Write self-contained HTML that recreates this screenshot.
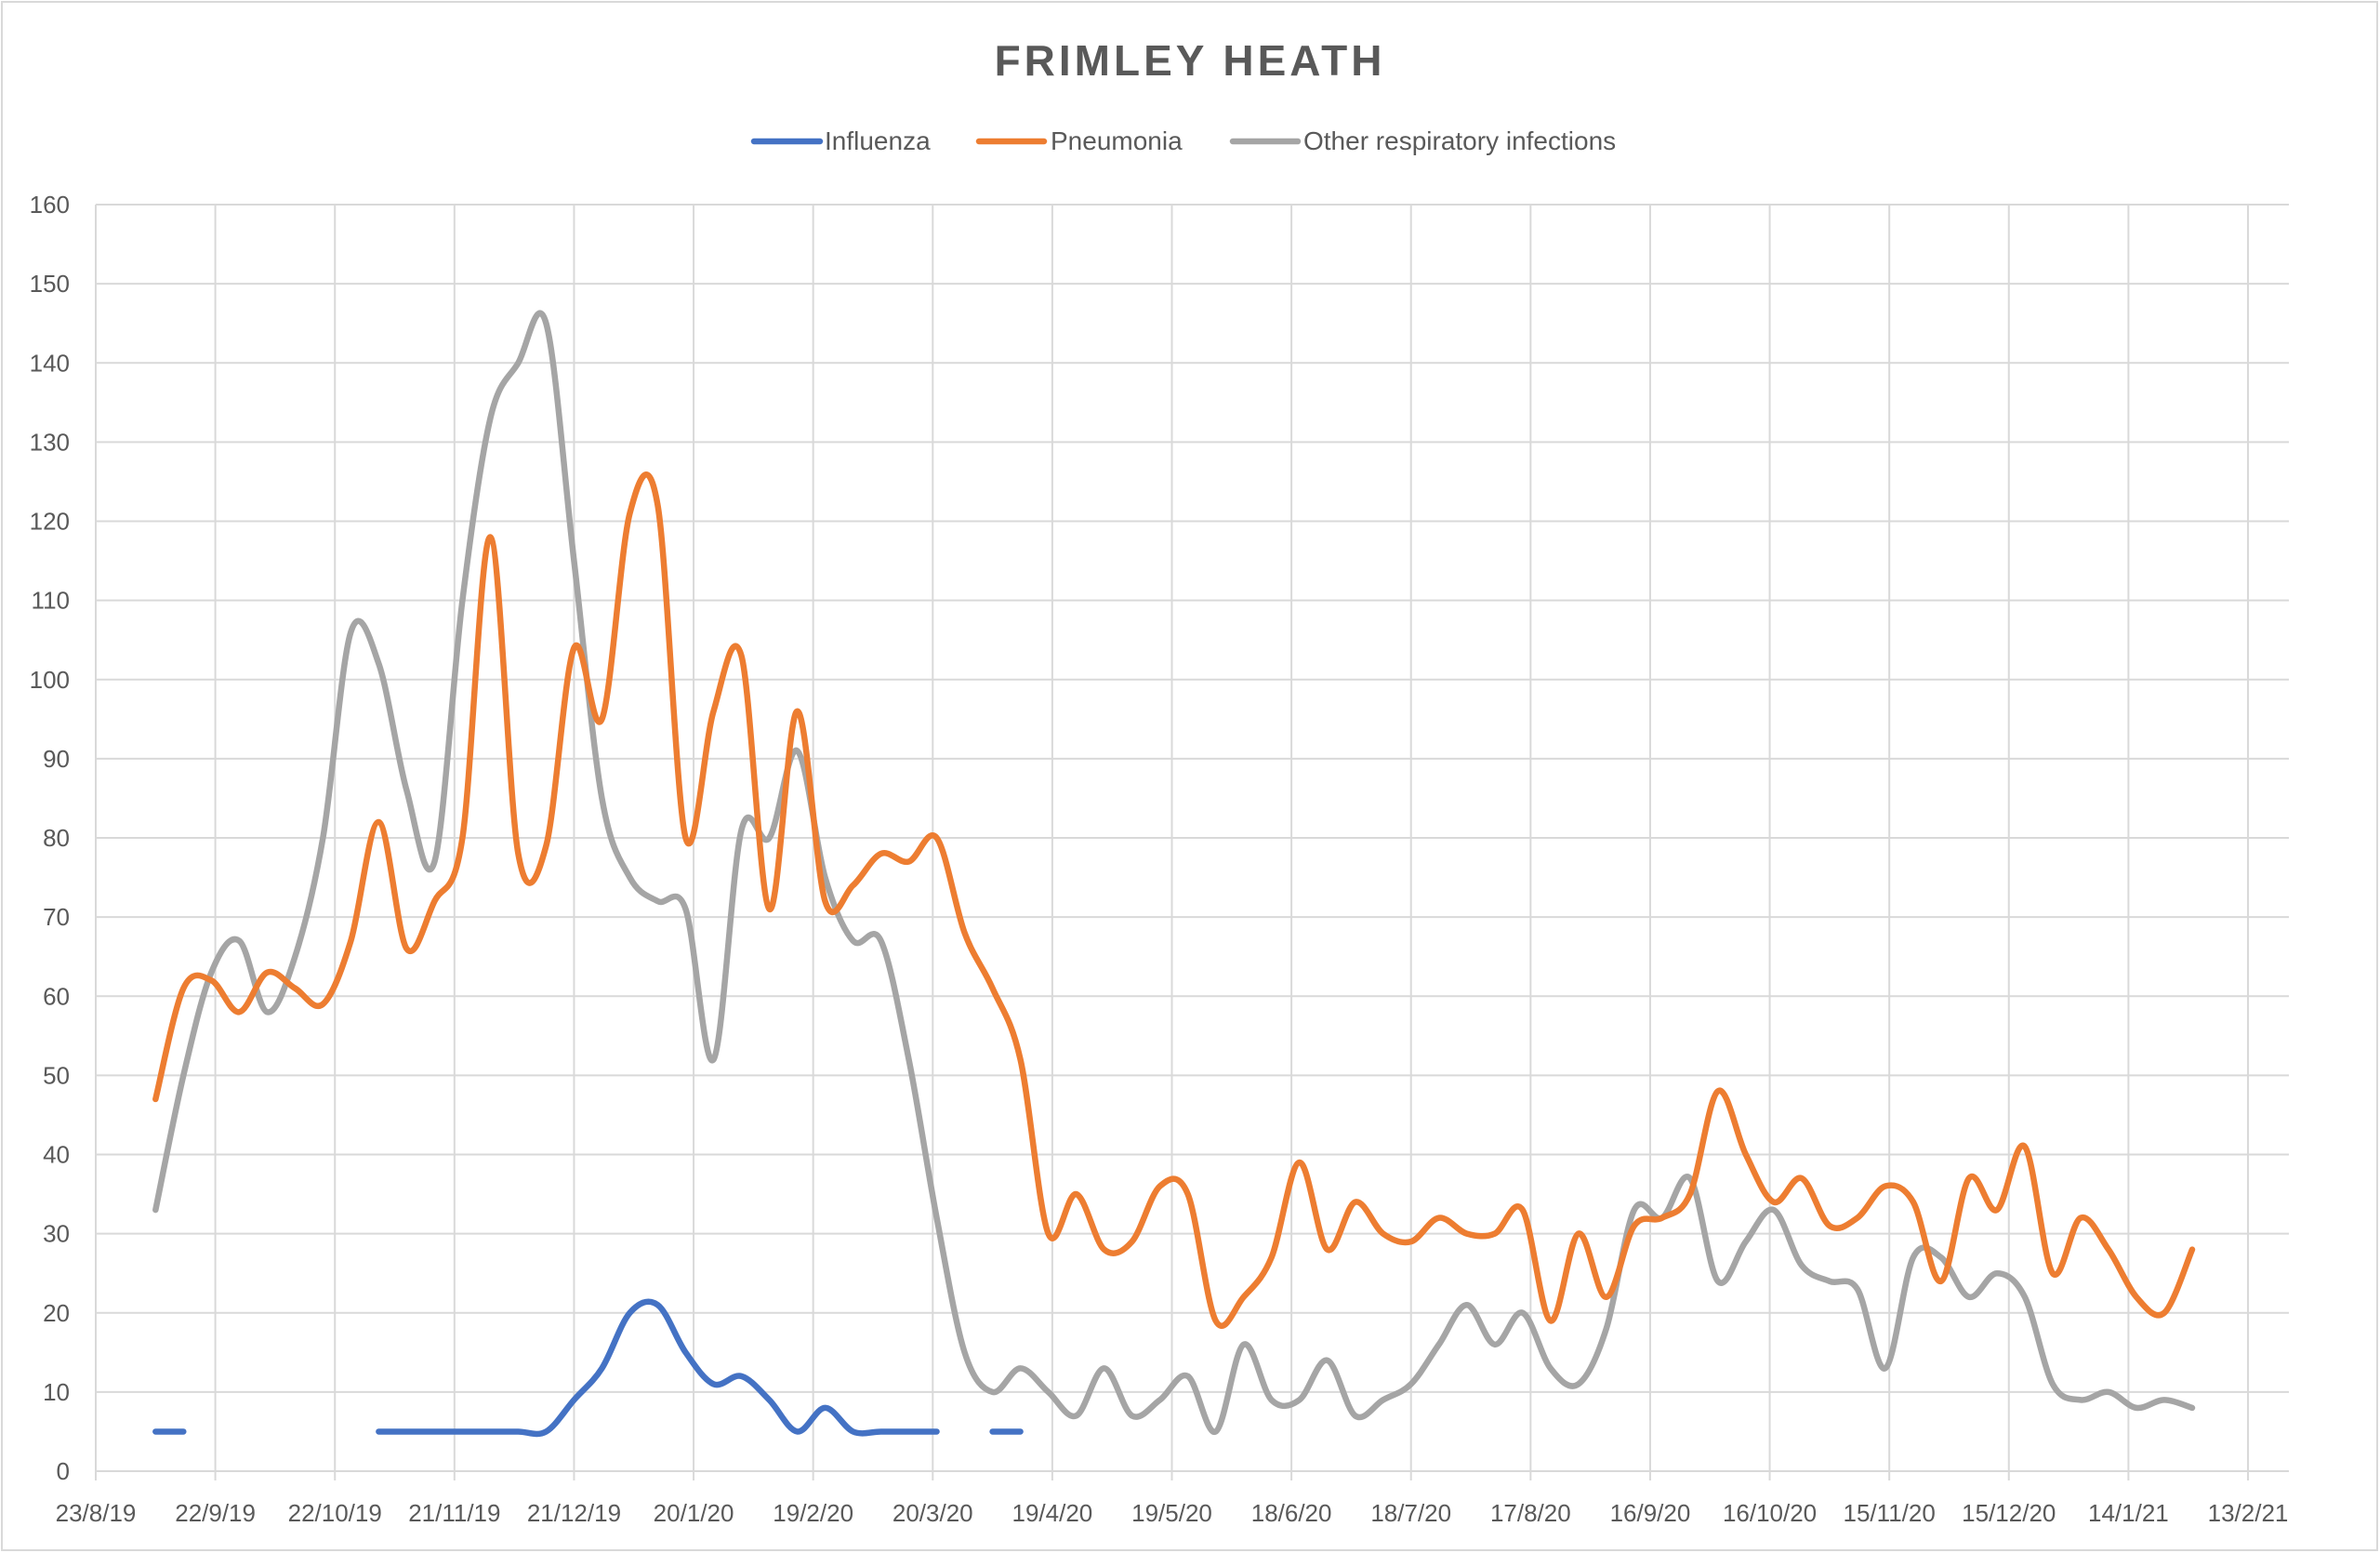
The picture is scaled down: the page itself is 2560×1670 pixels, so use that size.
<!DOCTYPE html>
<html><head><meta charset="utf-8"><style>
html,body{margin:0;padding:0;background:#fff;}
svg{display:block;font-family:"Liberation Sans",sans-serif;}
</style></head><body>
<svg id="chart" width="2560" height="1670" viewBox="0 0 2560 1670" xmlns="http://www.w3.org/2000/svg">
<rect x="2" y="2" width="2555" height="1665" fill="#fff" stroke="#d9d9d9" stroke-width="2"/>
<text x="1280" y="81" text-anchor="middle" font-size="46" font-weight="bold" fill="#595959" letter-spacing="4">FRIMLEY HEATH</text>
<g font-size="28" fill="#595959">
<g><line x1="811" y1="152" x2="882" y2="152" stroke="#4472c4" stroke-width="6.5" stroke-linecap="round"/><text x="887" y="161">Influenza</text></g>
<g><line x1="1053" y1="152" x2="1123" y2="152" stroke="#ed7d31" stroke-width="6.5" stroke-linecap="round"/><text x="1130" y="161">Pneumonia</text></g>
<g><line x1="1326" y1="152" x2="1396" y2="152" stroke="#a5a5a5" stroke-width="6.5" stroke-linecap="round"/><text x="1402" y="161">Other respiratory infections</text></g>
</g>
<g id="grid"></g>
<g id="axes"></g>
<g id="series"></g>
</svg>
<script>
const yTicks = [0,10,20,30,40,50,60,70,80,90,100,110,120,130,140,150,160];
const xTickLabels = ["23/8/19","22/9/19","22/10/19","21/11/19","21/12/19","20/1/20","19/2/20","20/3/20","19/4/20","19/5/20","18/6/20","18/7/20","17/8/20","16/9/20","16/10/20","15/11/20","15/12/20","14/1/21","13/2/21"];
const firstDataDay = 15; // days after 23/8/19 (7/9/19)
const influenza = [5,5,null,null,null,null,null,null,5,5,5,5,5,5,5,9,13,20,21,15,11,12,9,5,8,5,5,5,5,null,5,5,null,null,null,null,null,null,null,null,null,null,null,null,null,null,null,null,null,null,null,null,null,null,null,null,null,null,null,null,null,null,null,null,null,null,null,null,null,null,null,null,null,null];
const pneumonia = [47,61,62,58,63,61,59,67,82,66,72,80,118,78,79,104,95,121,122,80,96,103,71,96,72,74,78,77,80,68,61,52,30,35,28,29,36,35,19,22,27,39,28,34,30,29,32,30,30,33,19,30,22,31,32,35,48,40,34,37,31,32,36,34,24,37,33,41,25,32,28,22,20,28];
const otherResp = [33,50,63,67,58,65,80,106,102,86,77,110,133,140,145,115,85,75,72,71,52,81,80,91,75,67,67,52,32,15,10,13,10,7,13,7,9,12,5,16,9,9,14,7,9,11,16,21,16,20,13,11,18,33,32,37,24,29,33,26,24,23,13,27,27,22,25,22,11,9,10,8,9,8];

const NS="http://www.w3.org/2000/svg";
const X0=103, PXDAY=(2418-103)/540, XR=2462, Y0=1582, YTOP=220, YMAX=160;
const xDay=d=>X0+d*PXDAY;
const yVal=v=>Y0-(v/YMAX)*(Y0-YTOP);
const xIdx=i=>xDay(firstDataDay+i*7);
function mk(tag,attrs,parent){const e=document.createElementNS(NS,tag);for(const k in attrs)e.setAttribute(k,attrs[k]);parent.appendChild(e);return e;}
const grid=document.getElementById('grid'), axes=document.getElementById('axes'), series=document.getElementById('series');
yTicks.forEach(v=>{
  const l=mk('line',{x1:X0,x2:XR,y1:yVal(v),y2:yVal(v),stroke:'#d9d9d9','stroke-width':2},grid);
  
  
  const t=mk('text',{x:75,y:yVal(v)+9,'text-anchor':'end','font-size':26,fill:'#595959'},axes);
  t.textContent=v;
  
  
});
xTickLabels.forEach((lab,i)=>{
  const x=xDay(i*30);
  const l=mk('line',{x1:x,x2:x,y1:YTOP,y2:Y0+10,stroke:'#d9d9d9','stroke-width':2},grid);
  
  
  const t=mk('text',{x:x,y:1636,'text-anchor':'middle','font-size':26,fill:'#595959'},axes);
  t.textContent=lab;
  
  
});
function smoothPath(vals){
  let d='';let seg=[];
  const flush=()=>{
    if(seg.length===0)return;
    const p=seg;
    d+=`M${p[0][0]},${p[0][1]}`;
    for(let i=0;i<p.length-1;i++){
      const p0=p[i-1]||p[i],p1=p[i],p2=p[i+1],p3=p[i+2]||p2;
      const c1x=p1[0]+(p2[0]-p0[0])/6,c1y=p1[1]+(p2[1]-p0[1])/6;
      const c2x=p2[0]-(p3[0]-p1[0])/6,c2y=p2[1]-(p3[1]-p1[1])/6;
      d+=`C${c1x},${c1y} ${c2x},${c2y} ${p2[0]},${p2[1]}`;
    }
    seg=[];
  };
  vals.forEach((v,i)=>{if(v===null){flush();}else seg.push([xIdx(i),yVal(v)]);});
  flush();
  return d;
}
[[otherResp,'#a5a5a5','other-respiratory-line'],[pneumonia,'#ed7d31','pneumonia-line'],[influenza,'#4472c4','influenza-line']].forEach(([vals,col,name])=>{
  const p=mk('path',{d:smoothPath(vals),fill:'none',stroke:col,'stroke-width':6.5,'stroke-linecap':'round','stroke-linejoin':'round'},series);
  
  
});
</script>
</body></html>
